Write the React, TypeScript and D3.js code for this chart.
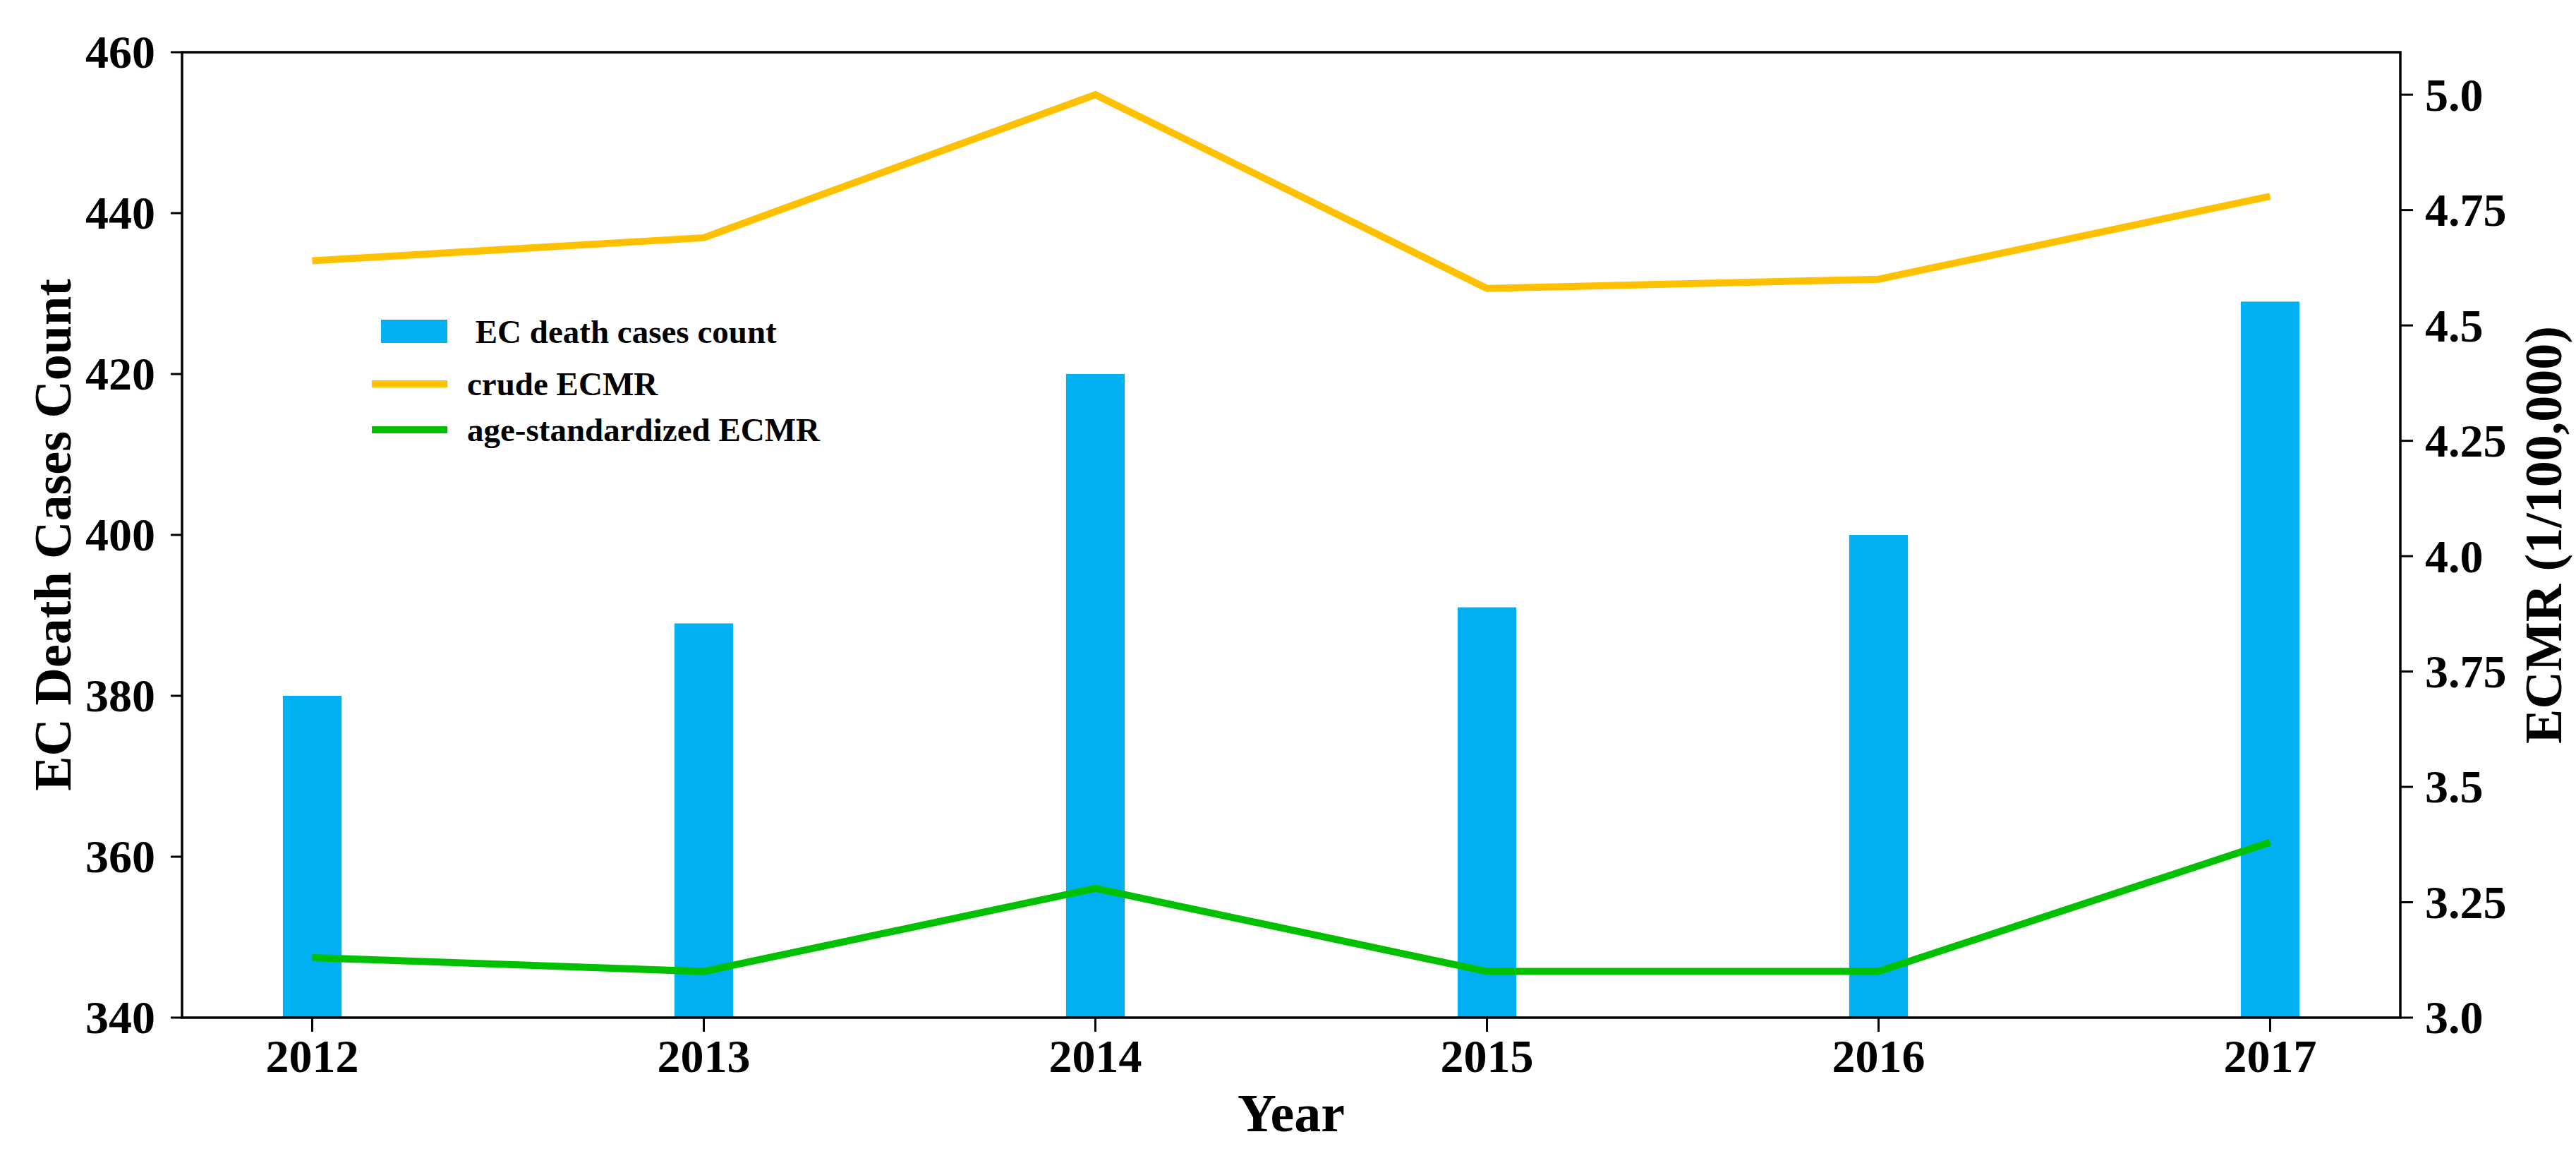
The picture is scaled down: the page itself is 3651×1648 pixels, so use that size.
import * as d3 from 'd3'

const years = [2012, 2013, 2014, 2015, 2016, 2017]
const deathCases = [380, 389, 420, 391, 400, 429]
const crudeEcmr = [4.64, 4.69, 5.0, 4.58, 4.6, 4.78]
const ageStdEcmr = [3.13, 3.1, 3.28, 3.1, 3.1, 3.38]

const leftTicks = [340, 360, 380, 400, 420, 440, 460]
const rightTicks = [3.0, 3.25, 3.5, 3.75, 4.0, 4.25, 4.5, 4.75, 5.0]
const rightTickLabels = ['3.0', '3.25', '3.5', '3.75', '4.0', '4.25', '4.5', '4.75', '5.0']

const legendItems = [
  { label: ' EC death cases count', kind: 'bar', color: '#00b0f0' },
  { label: 'crude ECMR', kind: 'line', color: '#ffc000' },
  { label: 'age-standardized ECMR', kind: 'line', color: '#00c000' },
]

const W = 3651
const H = 1648
const margin = { top: 74, right: 249, bottom: 206, left: 258 }
const FONT = '"Liberation Serif", "Times New Roman", serif'

export default function App() {
  const innerW = W - margin.left - margin.right
  const innerH = H - margin.top - margin.bottom
  const barWidth = 0.15
  const pad = (years[years.length - 1] - years[0] + barWidth) * 0.05

  const x = d3.scaleLinear()
    .domain([years[0] - barWidth / 2 - pad, years[years.length - 1] + barWidth / 2 + pad])
    .range([0, innerW])

  const yLeft = d3.scaleLinear().domain([340, 460]).range([innerH, 0])
  const yRight = d3.scaleLinear().domain([3.0, 5.092]).range([innerH, 0])

  const line = d3.line<number>()
    .x((_, i) => x(years[i]))
    .y(d => yRight(d))

  const bw = x(years[0] + barWidth) - x(years[0])

  return (
    <svg width={W} height={H} style={{ position: 'absolute', left: 0, top: 0, background: '#fff' }}
      fontFamily={FONT} fontWeight="bold">
      <g transform={`translate(${margin.left},${margin.top})`}>
        {/* bars */}
        {deathCases.map((d, i) => (
          <rect key={years[i]} x={x(years[i]) - bw / 2} y={yLeft(d)} width={bw}
            height={innerH - yLeft(d)} fill="#00b0f0" />
        ))}

        {/* lines */}
        <path d={line(crudeEcmr) || ''} fill="none" stroke="#ffc000" strokeWidth={10} />
        <path d={line(ageStdEcmr) || ''} fill="none" stroke="#00c000" strokeWidth={10} />

        {/* frame */}
        <rect x={0} y={0} width={innerW} height={innerH} fill="none" stroke="#000" strokeWidth={3.5} />

        {/* left axis */}
        {leftTicks.map(t => (
          <g key={t} transform={`translate(0,${yLeft(t)})`}>
            <line x1={-16} x2={0} stroke="#000" strokeWidth={3} />
            <text x={-38} dy="0.34em" textAnchor="end" fontSize={66}>{t}</text>
          </g>
        ))}

        {/* right axis */}
        {rightTicks.map((t, i) => (
          <g key={t} transform={`translate(${innerW},${yRight(t)})`}>
            <line x1={0} x2={18} stroke="#000" strokeWidth={3} />
            <text x={35} dy="0.34em" textAnchor="start" fontSize={66}>{rightTickLabels[i]}</text>
          </g>
        ))}

        {/* x axis */}
        {years.map(yr => (
          <g key={yr} transform={`translate(${x(yr)},${innerH})`}>
            <line y1={0} y2={20} stroke="#000" strokeWidth={3} />
            <text y={77} textAnchor="middle" fontSize={66}>{yr}</text>
          </g>
        ))}

        {/* axis titles */}
        <text x={innerW / 2} y={innerH + 161} textAnchor="middle" fontSize={76}>Year</text>
        <text transform={`translate(${100 - margin.left},${innerH / 2}) rotate(-90)`}
          textAnchor="middle" fontSize={74}>EC Death Cases Count</text>
        <text transform={`translate(${3630 - margin.left},${innerH / 2}) rotate(-90)`}
          textAnchor="middle" fontSize={74}>ECMR (1/100,000)</text>

        {/* legend */}
        <g transform={`translate(${527 - margin.left},${470 - margin.top})`}>
          {legendItems.map((it, i) => {
            const yy = [0, 74, 139][i]
            return (
              <g key={it.label} transform={`translate(0,${yy})`}>
                {it.kind === 'bar'
                  ? <rect x={13} y={-17} width={94} height={33} fill={it.color} />
                  : <line x1={0} x2={107} stroke={it.color} strokeWidth={10} />}
                <text x={135} dy="0.33em" fontSize={47} style={{ whiteSpace: 'pre' }}>{it.label}</text>
              </g>
            )
          })}
        </g>
      </g>
    </svg>
  )
}
